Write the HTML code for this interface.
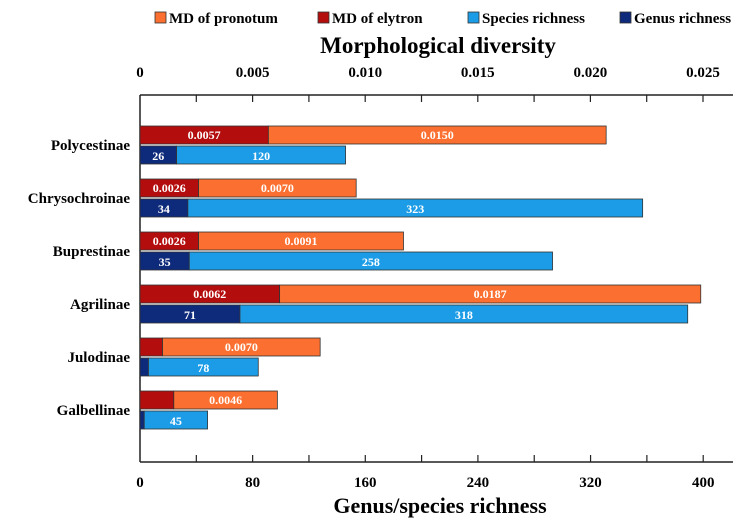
<!DOCTYPE html>
<html><head><meta charset="utf-8"><style>
body{margin:0;background:#fff;width:747px;height:524px;overflow:hidden}
svg{font-family:"Liberation Serif",serif;font-weight:bold}
</style></head><body>
<svg width="747" height="524">
<g id="legend"></g>
<g id="plot"></g>
</svg>
<script>
const categories=["Polycestinae","Chrysochroinae","Buprestinae","Agrilinae","Julodinae","Galbellinae"];
const mdElytron=[0.0057,0.0026,0.0026,0.0062,0.0010,0.0015];
const mdPronotum=[0.0150,0.0070,0.0091,0.0187,0.0070,0.0046];
const genusRich=[26,34,35,71,6,3];
const speciesRich=[120,323,258,318,78,45];
const showGenusLabel=[true,true,true,true,false,false];
const showElytronLabel=[true,true,true,true,false,false];
const richTicks=[0,80,160,240,320,400];
const mdTicks=[0,0.005,0.010,0.015,0.020,0.025];
const mdTickLabels=["0","0.005","0.010","0.015","0.020","0.025"];

const NS="http://www.w3.org/2000/svg";
const X0=140,X1=733,Y0=95,Y1=462;
const xR=v=>X0+v*1.408;
const xM=v=>X0+v*22520;
const rowY=i=>145+i*53;
const plot=document.getElementById('plot');
function mk(t,a,p){const e=document.createElementNS(NS,t);for(const k in a)e.setAttribute(k,a[k]);(p||plot).appendChild(e);return e;}
function txt(s,a,p){const e=mk('text',a,p);e.textContent=s;return e;}

let e=mk('line',{x1:X0,y1:Y0,x2:X0,y2:Y1,stroke:'#222','stroke-width':1.5});


e=mk('line',{x1:X0,y1:Y0,x2:X1,y2:Y0,stroke:'#222','stroke-width':1.5});


e=mk('line',{x1:X0,y1:Y1,x2:X1,y2:Y1,stroke:'#222','stroke-width':1.5});


for(let v=40;v<=400;v+=40){mk('line',{x1:xR(v),y1:Y1,x2:xR(v),y2:Y1-7,stroke:'#222','stroke-width':1.2});}
for(let k=1;k<=10;k++){const v=k*0.0025;mk('line',{x1:xM(v),y1:Y0,x2:xM(v),y2:Y0+7,stroke:'#222','stroke-width':1.2});}
richTicks.forEach(v=>{const t=txt(String(v),{x:xR(v),y:487,'text-anchor':'middle','font-size':15});

});
mdTicks.forEach((v,i)=>{const t=txt(mdTickLabels[i],{x:xM(v),y:77,'text-anchor':'middle','font-size':15});

});
e=txt('Morphological diversity',{x:438,y:53,'text-anchor':'middle','font-size':23});


e=txt('Genus/species richness',{x:440,y:513,'text-anchor':'middle','font-size':22});



const H=18;
categories.forEach((c,i)=>{
 const y=rowY(i);
 let t=txt(c,{x:130,y:y+5,'text-anchor':'end','font-size':15});
 
 
 let r=mk('rect',{x:X0,y:y-H-1,width:xM(mdElytron[i])-X0,height:H,fill:'#b40d0d',stroke:'#333','stroke-width':0.8});
 
 
 r=mk('rect',{x:xM(mdElytron[i]),y:y-H-1,width:xM(mdPronotum[i])-X0,height:H,fill:'#fb7030',stroke:'#333','stroke-width':0.8});
 
 
 if(showElytronLabel[i])txt(mdElytron[i].toFixed(4),{x:(X0+xM(mdElytron[i]))/2,y:y-6,'text-anchor':'middle','font-size':12,fill:'#fff'});
 txt(mdPronotum[i].toFixed(4),{x:xM(mdElytron[i])+(xM(mdPronotum[i])-X0)/2,y:y-6,'text-anchor':'middle','font-size':12,fill:'#fff'});
 r=mk('rect',{x:X0,y:y+1,width:xR(genusRich[i])-X0,height:H,fill:'#0e2a7a',stroke:'#333','stroke-width':0.8});
 
 
 r=mk('rect',{x:xR(genusRich[i]),y:y+1,width:xR(speciesRich[i])-X0,height:H,fill:'#1c9ce6',stroke:'#333','stroke-width':0.8});
 
 
 if(showGenusLabel[i])txt(String(genusRich[i]),{x:(X0+xR(genusRich[i]))/2,y:y+15,'text-anchor':'middle','font-size':12,fill:'#fff'});
 txt(String(speciesRich[i]),{x:xR(genusRich[i])+(xR(speciesRich[i])-X0)/2,y:y+15,'text-anchor':'middle','font-size':12,fill:'#fff'});
});

const lg=document.getElementById('legend');
const legNames=["MD of pronotum","MD of elytron","Species richness","Genus richness"];
const legColors=["#fb7030","#b40d0d","#1c9ce6","#0e2a7a"];
const legX=[155,318,468,620];
legNames.forEach((n,i)=>{
 const g=mk('g',{},lg);
 
 
 mk('rect',{x:legX[i],y:12,width:11,height:11,fill:legColors[i],stroke:'#333','stroke-width':0.8},g);
 txt(n,{x:legX[i]+14,y:23,'font-size':15},g);
});
</script>
</body></html>
